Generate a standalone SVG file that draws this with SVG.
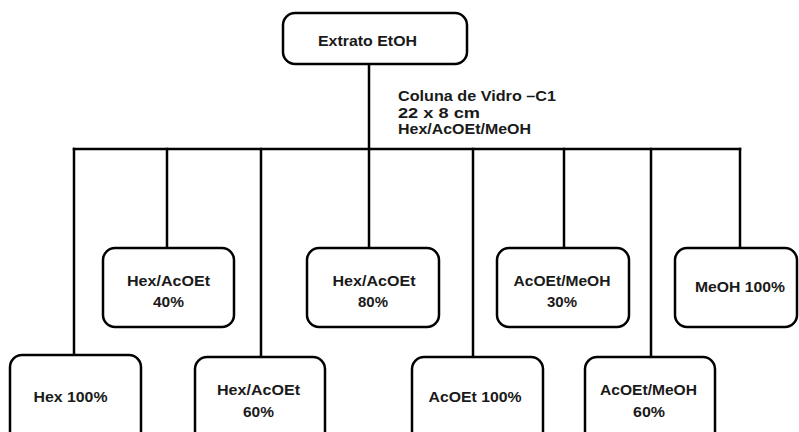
<svg xmlns="http://www.w3.org/2000/svg" width="799" height="432" viewBox="0 0 799 432">
  <style>
    .box { fill: #ffffff; stroke: #000000; stroke-width: 2.5; }
    .wire { fill: none; stroke: #000000; stroke-width: 2.5; stroke-linecap: square; }
    text { font-family: "Liberation Sans", Arial, sans-serif; font-size: 15px; font-weight: bold; fill: #1a1a1a; }
    .c { text-anchor: middle; }
  </style>
  <rect width="799" height="432" fill="#ffffff"/>

  <!-- connectors -->
  <g id="connectors">
    <line class="wire" x1="369" y1="64" x2="369" y2="248"/>
    <line class="wire" x1="74" y1="149" x2="740" y2="149"/>
    <line class="wire" x1="74" y1="149" x2="74" y2="355"/>
    <line class="wire" x1="167" y1="149" x2="167" y2="248"/>
    <line class="wire" x1="261" y1="149" x2="261" y2="357"/>
    <line class="wire" x1="473" y1="149" x2="473" y2="357"/>
    <line class="wire" x1="564" y1="149" x2="564" y2="248"/>
    <line class="wire" x1="651" y1="149" x2="651" y2="357"/>
    <line class="wire" x1="740" y1="149" x2="740" y2="248"/>
  </g>

  <g id="column-note">
    <text x="398" y="101" textLength="158" lengthAdjust="spacingAndGlyphs">Coluna de Vidro –C1</text>
    <text x="398" y="118" textLength="82" lengthAdjust="spacingAndGlyphs">22 x 8 cm</text>
    <text x="398" y="134" textLength="133" lengthAdjust="spacingAndGlyphs">Hex/AcOEt/MeOH</text>
  </g>

  <g id="extrato">
    <rect class="box" x="283" y="13" width="184" height="51" rx="12"/>
    <text class="c" x="367.5" y="46" textLength="99" lengthAdjust="spacingAndGlyphs">Extrato EtOH</text>
  </g>

  <g id="hex100">
    <rect class="box" x="10" y="355" width="131" height="95" rx="12"/>
    <text class="c" x="70.5" y="402" textLength="74" lengthAdjust="spacingAndGlyphs">Hex 100%</text>
  </g>

  <g id="hex-acoet-40">
    <rect class="box" x="103" y="248" width="131" height="79" rx="12"/>
    <text class="c" x="168.5" y="286" textLength="83" lengthAdjust="spacingAndGlyphs">Hex/AcOEt</text>
    <text class="c" x="168.5" y="307" textLength="31" lengthAdjust="spacingAndGlyphs">40%</text>
  </g>

  <g id="hex-acoet-60">
    <rect class="box" x="195" y="357" width="130" height="95" rx="12"/>
    <text class="c" x="258.5" y="395" textLength="83" lengthAdjust="spacingAndGlyphs">Hex/AcOEt</text>
    <text class="c" x="258.5" y="417" textLength="31" lengthAdjust="spacingAndGlyphs">60%</text>
  </g>

  <g id="hex-acoet-80">
    <rect class="box" x="307" y="248" width="132" height="79" rx="12"/>
    <text class="c" x="374" y="286" textLength="83" lengthAdjust="spacingAndGlyphs">Hex/AcOEt</text>
    <text class="c" x="373" y="307" textLength="30" lengthAdjust="spacingAndGlyphs">80%</text>
  </g>

  <g id="acoet100">
    <rect class="box" x="412" y="357" width="131" height="95" rx="12"/>
    <text class="c" x="475" y="402" textLength="93" lengthAdjust="spacingAndGlyphs">AcOEt 100%</text>
  </g>

  <g id="acoet-meoh-30">
    <rect class="box" x="497" y="248" width="132" height="79" rx="12"/>
    <text class="c" x="562" y="286" textLength="97" lengthAdjust="spacingAndGlyphs">AcOEt/MeOH</text>
    <text class="c" x="562" y="307" textLength="30" lengthAdjust="spacingAndGlyphs">30%</text>
  </g>

  <g id="acoet-meoh-60">
    <rect class="box" x="585" y="357" width="130" height="95" rx="12"/>
    <text class="c" x="648.5" y="395" textLength="97" lengthAdjust="spacingAndGlyphs">AcOEt/MeOH</text>
    <text class="c" x="649" y="417" textLength="32" lengthAdjust="spacingAndGlyphs">60%</text>
  </g>

  <g id="meoh100">
    <rect class="box" x="675" y="248" width="122" height="79" rx="12"/>
    <text class="c" x="740" y="292" textLength="90" lengthAdjust="spacingAndGlyphs">MeOH 100%</text>
  </g>
</svg>
